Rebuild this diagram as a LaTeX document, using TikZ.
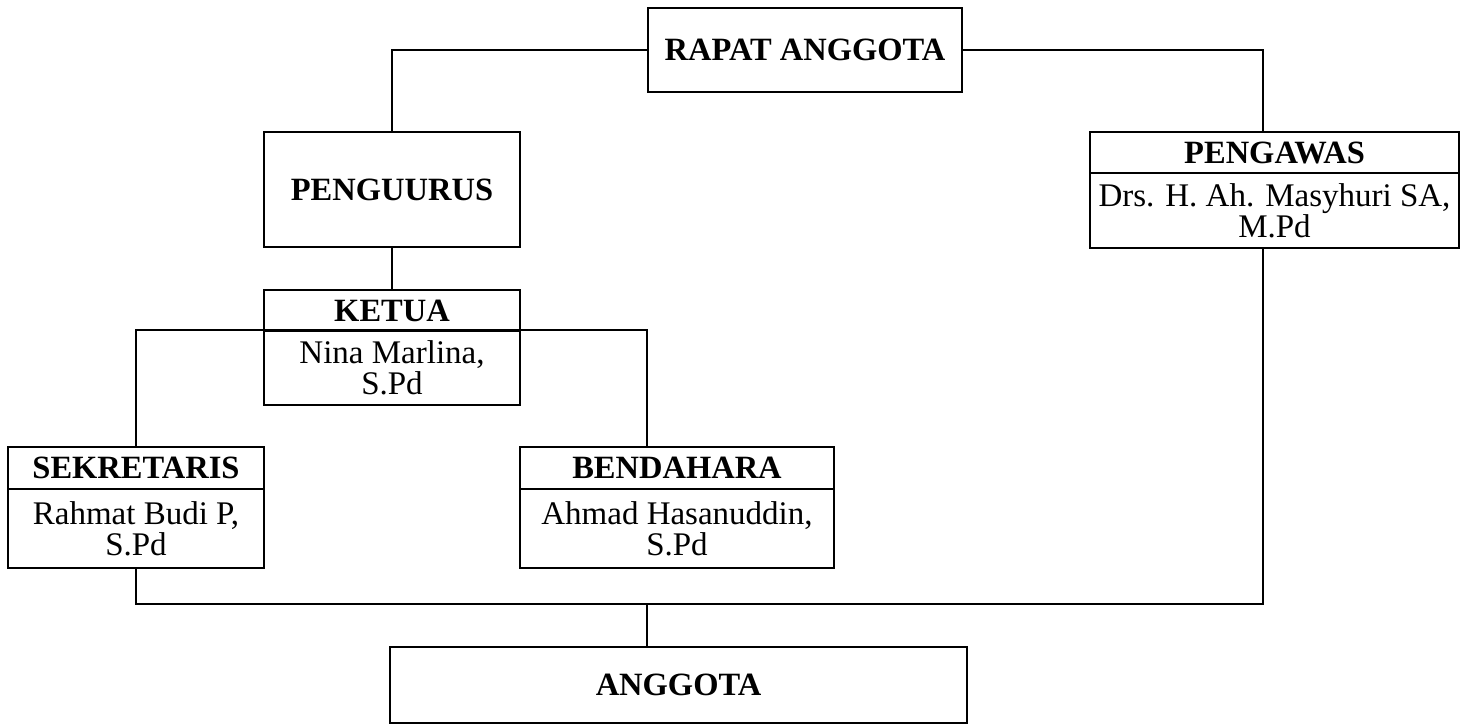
\documentclass[tikz,border=0pt]{standalone}
\usepackage{fontspec}
\setmainfont{Liberation Serif}
\begin{document}
\begin{tikzpicture}[x=1pt,y=-1pt,
  box/.style={draw=black, line width=2pt, inner sep=0pt, align=center, anchor=north west},
  ttl/.style={box, font=\fontsize{32.5}{32}\selectfont\bfseries},
  body/.style={box, font=\fontsize{33}{31}\selectfont},
  conn/.style={draw=black, line width=2pt}]
\useasboundingbox (0,0) rectangle (1461,725);
% nodes
\node[ttl, minimum width=314pt, minimum height=84pt] (rapat) at (647,7) {RAPAT ANGGOTA};
\node[ttl, minimum width=256pt, minimum height=115pt] (peng) at (263,131) {PENGUURUS};
\node[ttl, minimum width=369pt, minimum height=41pt] (awasT) at (1089,131) {PENGAWAS};
\node[body, minimum width=369pt, minimum height=75pt] (awasB) at (1089,172) {Drs. H. Ah. Masyhuri SA,\\M.Pd};
\node[ttl, minimum width=256pt, minimum height=41pt] (ketT) at (263,289) {KETUA};
\node[body, minimum width=256pt, minimum height=74pt] (ketB) at (263,330) {Nina Marlina,\\S.Pd};
\node[ttl, minimum width=256pt, minimum height=42pt] (sekT) at (7,446) {SEKRETARIS};
\node[body, minimum width=256pt, minimum height=79pt] (sekB) at (7,488) {Rahmat Budi P,\\S.Pd};
\node[ttl, minimum width=314pt, minimum height=42pt] (benT) at (519,446) {BENDAHARA};
\node[body, minimum width=314pt, minimum height=79pt] (benB) at (519,488) {Ahmad Hasanuddin,\\S.Pd};
\node[ttl, minimum width=577pt, minimum height=76pt] (ang) at (389,646) {ANGGOTA};
% helper coordinates
\coordinate (px) at (1263,0);
\coordinate (bx) at (647,0);
\coordinate (kr) at (647,330);
\coordinate (py) at (1263,604);
% connectors
\draw[conn] (rapat.west) -| (peng.north);
\draw[conn] (rapat.east) -| (awasT.north -| px);
\draw[conn] (peng.south) -- (ketT.north);
\draw[conn] (sekT.north) |- (kr) -- (benT.north -| bx);
\draw[conn] (sekB.south) |- (py) -- (awasB.south -| px);
\draw[conn] (ang.north -| bx) -- (bx |- py);
\end{tikzpicture}
\end{document}
